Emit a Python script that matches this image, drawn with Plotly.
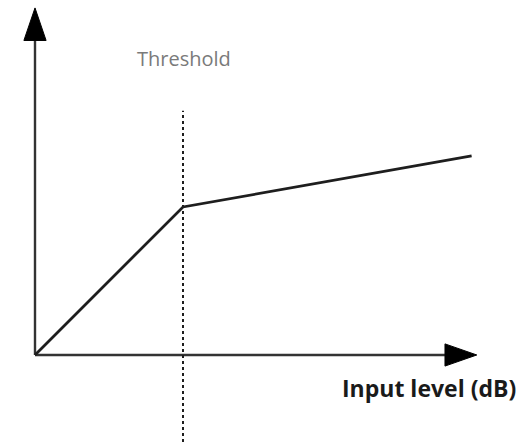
import plotly.graph_objects as go

# Data (input level vs output level, arbitrary dB units)
input_level = [0, 20, 59]
output_level = [0, 20, 26.9]
threshold = 20
threshold_label = "Threshold"
x_axis_label = "Input level (dB)"

# Axis extents (data units)
x_range = [-4.73, 65.81]
y_range = [-11.76, 47.97]
x_axis_end = 59.7
y_axis_end = 46.9
arrow_len_x = 4.3
arrow_len_y = 4.4
arrow_half = 1.5
threshold_top = 33.0

line_color = "#1e1e1e"

fig = go.Figure()
fig.add_trace(go.Scatter(
    x=input_level, y=output_level, mode="lines",
    line=dict(color=line_color, width=2.8), hoverinfo="skip", showlegend=False,
))

shapes = []
# x axis line
shapes.append(dict(type="line", x0=0, y0=0, x1=x_axis_end - arrow_len_x, y1=0,
                   line=dict(color="#333333", width=2.4), layer="below"))
# y axis line
shapes.append(dict(type="line", x0=0, y0=0, x1=0, y1=y_axis_end - arrow_len_y,
                   line=dict(color="#333333", width=2.4), layer="below"))
# x arrow head
bx = x_axis_end - arrow_len_x
shapes.append(dict(type="path",
                   path=f"M {bx},{-arrow_half} L {x_axis_end},0 L {bx},{arrow_half} Z",
                   fillcolor="black", line=dict(color="black", width=1)))
# y arrow head
by = y_axis_end - arrow_len_y
shapes.append(dict(type="path",
                   path=f"M {-arrow_half},{by} L 0,{y_axis_end} L {arrow_half},{by} Z",
                   fillcolor="black", line=dict(color="black", width=1)))
# threshold dashed line
shapes.append(dict(type="line", x0=threshold, x1=threshold, y0=y_range[0], y1=threshold_top,
                   line=dict(color="#1e1e1e", width=2, dash="3px,3px"), layer="below"))

fig.update_layout(
    width=522, height=442,
    margin=dict(l=0, r=0, t=0, b=0),
    paper_bgcolor="white", plot_bgcolor="white",
    xaxis=dict(range=x_range, visible=False, fixedrange=True),
    yaxis=dict(range=y_range, visible=False, fixedrange=True),
    shapes=shapes,
    annotations=[
        dict(x=threshold + 0.15, y=40.1, text=threshold_label, showarrow=False,
             font=dict(family="Open Sans, sans-serif", size=20, color="#7a7a7a"),
             xanchor="center", yanchor="middle"),
        dict(x=53.3, y=-4.46, text=f"<b>{x_axis_label}</b>", showarrow=False,
             font=dict(family="Open Sans, sans-serif", size=23, color="#1a1a1a"),
             xanchor="center", yanchor="middle"),
    ],
)

fig.write_html("out.html", config={"displayModeBar": False},
               post_script="document.body.style.margin='0';document.body.style.overflow='hidden';")
